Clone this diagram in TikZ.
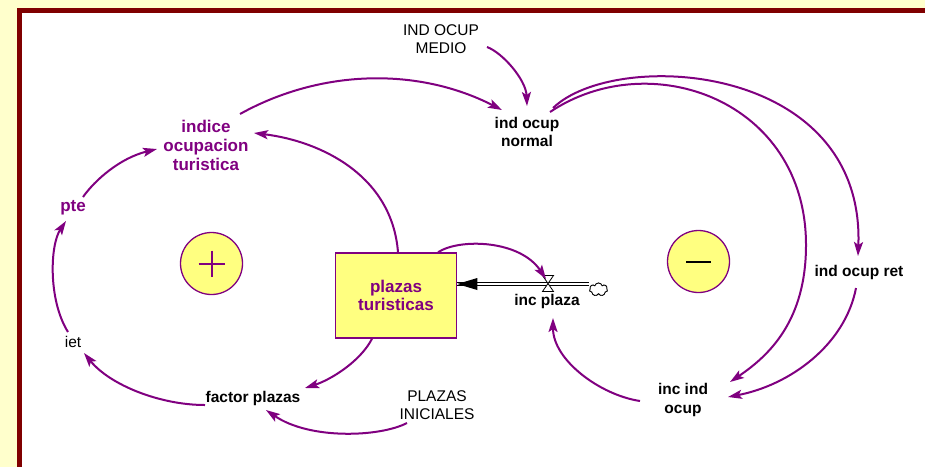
\documentclass[tikz,border=0pt]{standalone}
\usepackage{fontspec}
\setmainfont{Liberation Sans}
\usetikzlibrary{arrows.meta,calc,shapes.symbols}
\definecolor{vpurple}{HTML}{800080}
\definecolor{vyellow}{HTML}{FFFF80}
\definecolor{pagebg}{HTML}{FFFFCC}
\definecolor{framered}{HTML}{800000}

\begin{document}
\begin{tikzpicture}[x=1pt,y=-1pt,
  lbl/.style={font=\fontsize{15.5}{18.5}\selectfont\bfseries, align=center, inner sep=1pt},
  const/.style={font=\fontsize{15.5}{18.5}\selectfont, align=center, inner sep=1pt},
  purp/.style={text=vpurple, font=\fontsize{17}{19}\selectfont\bfseries},
  link/.style={draw=vpurple, line width=2pt, -{Stealth[length=14pt,width=9pt,inset=3pt]}},
  loopmark/.style={circle, draw=vpurple, line width=1.3pt, fill=vyellow, minimum size=62pt, inner sep=0pt},
  stock/.style={draw=vpurple, line width=1.5pt, fill=vyellow, minimum width=121pt, minimum height=85pt,
    align=center, text=vpurple, font=\fontsize{17}{18.5}\selectfont\bfseries},
  pipe/.style={draw=black, line width=0.8pt, double=white, double distance=2.2pt},
  srccloud/.style={cloud, cloud puffs=7, aspect=1.4, draw, line width=0.8pt, fill=white,
    minimum width=18pt, minimum height=13pt, inner sep=0pt}
]
\useasboundingbox (0,0) rectangle (925,467);
% page background and frame
\fill[pagebg] (0,0) rectangle (925,467);
\fill[framered] (17,8) rectangle (925,467);
\fill[white] (22,13) rectangle (925,467);

% variables
\node[const] (medio) at (441,39) {IND OCUP\\MEDIO};
\node[lbl] (ion) at (527,132) {ind ocup\\normal};
\node[lbl,purp] (iot) at (206,145) {indice\\ocupacion\\turistica};
\node[lbl,purp] (pte) at (73,208) {pte};
\node[const] (iet) at (73,342) {iet};
\node[lbl] (fp) at (253,398) {factor plazas};
\node[const] (pini) at (437,405) {PLAZAS\\INICIALES};
\node[stock] (pt) at (396,295.5) {plazas\\turisticas};
\node[lbl] (incp) at (547,301) {inc plaza};
\node[lbl] (ior) at (859,272) {ind ocup ret};
\node[lbl] (iio) at (683,400) {inc ind\\ocup};

% loop polarity markers
\node[loopmark] (lplus) at (211.5,263.5) {};
\draw[vpurple, line width=2pt] (lplus.center) +(-13,0) -- +(13,0) +(0,-13) -- +(0,13);
\node[loopmark] (lminus) at (698.5,261.5) {};
\draw[black, line width=2pt] (lminus.center) +(-12.5,0) -- +(12.5,0);

% flow into the stock: source cloud, pipe, valve
\coordinate (pin) at ($(pt.east)+(0,-11.5)$);
\coordinate (valve) at (548,283.5);
\node[srccloud] (src) at (598.5,289.5) {};
\draw[pipe] (pin -| src.west) -- (pin);
\node[srccloud] at (src) {};
\fill[black] (pin) -- ++(20,-6) -- ++(0,12) -- cycle;
\draw[fill=white, line width=0.8pt] (valve) +(-5.5,-8) -- +(5.5,-8) -- +(-5.5,8) -- +(5.5,8) -- cycle;

% causal links
\draw[link] ($(medio)+(46,8)$) .. controls (503,53) and (526,80) .. ($(ion)+(0,-26)$);
\draw[link] ($(iot)+(34,-31)$) .. controls (321,69) and (418,67) .. ($(ion)+(-25,-22)$);
\draw[link] ($(ion)+(26,-24)$) .. controls (615,48) and (865,62) .. ($(ior)+(-1,-16)$);
\draw[link] ($(ion)+(23,-20)$) .. controls (650,45) and (806,100) .. (806,245)
  .. controls (806,320) and (770,355) .. ($(iio)+(47,-18)$);
\draw[link] ($(ior)+(-3,16)$) .. controls (845,345) and (790,385) .. ($(iio)+(45,-3)$);
\draw[link] ($(iio)+(-43,1)$) .. controls (600,395) and (553,360) .. ($(incp)+(6,17)$);
\draw[link] ($(pt.north)+(42,0)$) .. controls (460,238) and (520,240) .. ($(valve)+(-2,-4.5)$);
\draw[link] ($(pt.north)+(2,0)$) .. controls (392,175) and (320,141) .. ($(iot)+(48,-12)$);
\draw[link] ($(pt.south)+(-24,0)$) .. controls (360,362) and (330,380) .. ($(fp)+(52,-10)$);
\draw[link] ($(pini)+(-30,18)$) .. controls (380,437) and (310,440) .. ($(fp)+(13,12)$);
\draw[link] ($(fp)+(-48,7)$) .. controls (160,405) and (110,385) .. ($(iet)+(11,11)$);
\draw[link] ($(iet)+(-5,-10)$) .. controls (48,300) and (50,245) .. ($(pte)+(-7,13)$);
\draw[link] ($(pte)+(10,-11)$) .. controls (95,180) and (120,158) .. ($(iot)+(-49,4)$);
\end{tikzpicture}
\end{document}
